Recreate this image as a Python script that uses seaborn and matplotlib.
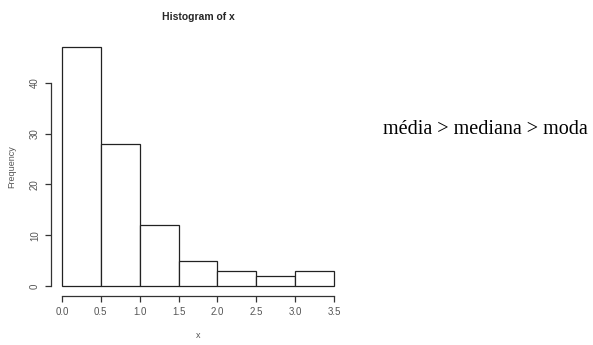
import matplotlib
matplotlib.use("Agg")
import matplotlib.pyplot as plt
import seaborn as sns

# Histogram bins and counts
bin_edges = [0.0, 0.5, 1.0, 1.5, 2.0, 2.5, 3.0, 3.5]
counts = [47, 28, 12, 5, 3, 2, 3]
y_ticks = [0, 10, 20, 30, 40]
x_ticks = [0.0, 0.5, 1.0, 1.5, 2.0, 2.5, 3.0, 3.5]
note = "média > mediana > moda"

sns.set_style("white")
plt.rcParams["font.family"] = ["Liberation Sans", "DejaVu Sans"]

centers = [(a + b) / 2 for a, b in zip(bin_edges[:-1], bin_edges[1:])]

fig = plt.figure(figsize=(5.93, 3.45), dpi=100)
ax = fig.add_axes([51 / 593, 1 - 295.5 / 345, 294 / 593, (295.5 - 37.7) / 345])

sns.histplot(x=centers, weights=counts, bins=bin_edges, ax=ax,
             color="white", edgecolor="#222222", linewidth=0.9, alpha=1)

ax.set_xlim(-0.14, 3.64)
ax.set_ylim(-1.88, 48.88)
ax.set_xticks(x_ticks)
ax.set_xticklabels([f"{t:.1f}" for t in x_ticks])
ax.set_yticks(y_ticks)
ax.set_yticklabels([str(t) for t in y_ticks], rotation=90, va="center")

for s in ["top", "right"]:
    ax.spines[s].set_visible(False)
ax.spines["left"].set_bounds(0, 40)
ax.spines["bottom"].set_bounds(0, 3.5)
for s in ["left", "bottom"]:
    ax.spines[s].set_color("#333333")
    ax.spines[s].set_linewidth(0.9)

ax.tick_params(axis="both", direction="out", length=4, width=0.9,
               color="#333333", labelsize=7, labelcolor="#555555",
               left=True, bottom=True, pad=4)

ax.set_xlabel("x", fontsize=6.5, color="#555555", labelpad=10)
ax.set_ylabel("Frequency", fontsize=6.5, color="#555555", labelpad=10)
ax.set_title("Histogram of x", fontsize=7.5, fontweight="bold", pad=13)

fig.text(485 / 593, 1 - 130 / 345, note, ha="center", va="center",
         fontsize=14.5, family="Liberation Serif", color="black")

fig.savefig("out.png", dpi=100)
